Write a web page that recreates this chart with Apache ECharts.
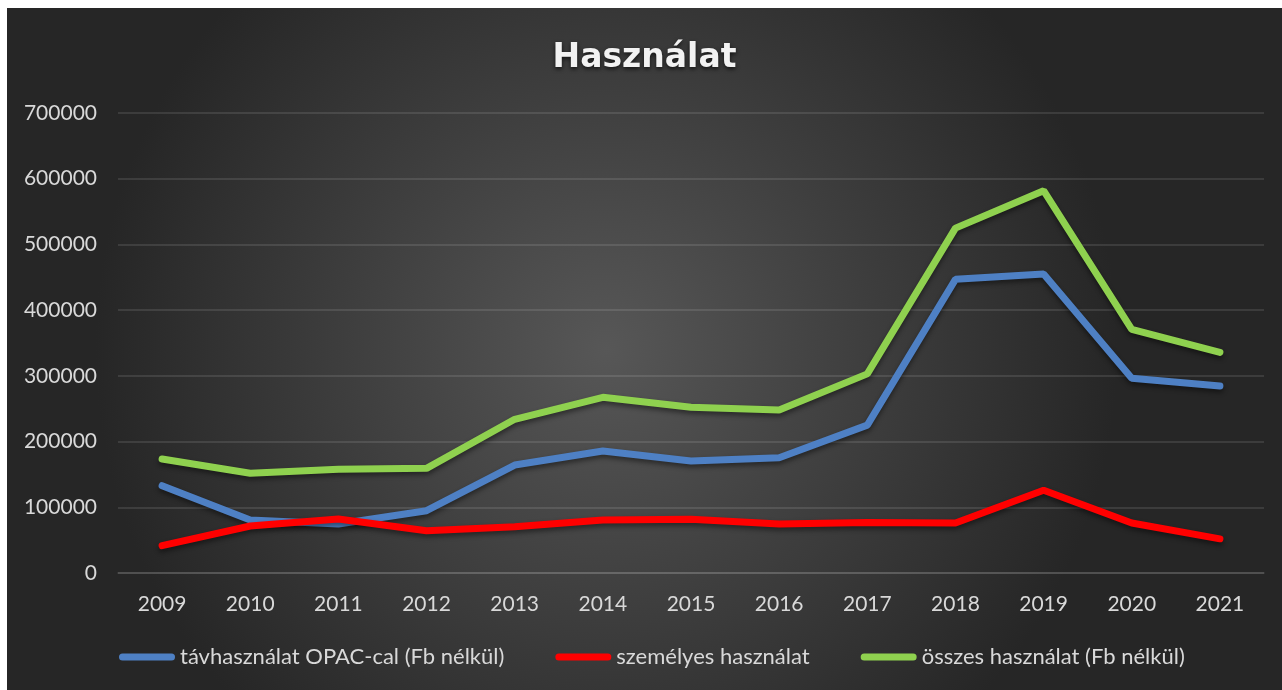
<!DOCTYPE html>
<html>
<head>
<meta charset="utf-8">
<script src="https://cdn.jsdelivr.net/npm/echarts@6/dist/echarts.min.js"></script>
<style>
  html, body { margin: 0; padding: 0; background: #fff; }
  #chart { position: absolute; left: 7px; top: 8px; width: 1275px; height: 682px; }
</style>
</head>
<body>
<div id="chart"></div>
<script>
const years = ['2009', '2010', '2011', '2012', '2013', '2014', '2015', '2016', '2017', '2018', '2019', '2020', '2021']
const tavhasznalat = [132900, 80600, 74600, 94800, 164300, 185600, 170400, 175500, 225000, 446900, 455000, 296300, 284600]
const szemelyes = [41600, 71500, 82200, 64400, 70500, 80600, 81700, 74600, 77000, 76000, 126000, 76000, 52000]
const osszes = [173500, 151700, 157800, 159300, 233900, 267400, 252100, 248000, 303000, 524800, 581700, 370800, 335800]
const seriesNames = ['távhasználat OPAC-cal (Fb nélkül)', 'személyes használat', 'összes használat (Fb nélkül)']
const colors = ['#4E80C4', '#FF0000', '#8FD14F']

const capsule = 'path://M3.5,0 H52.5 A3.5,3.5 0 0 1 52.5,7 H3.5 A3.5,3.5 0 0 1 3.5,0 Z'

function lineSeries(name, data, color) {
  return {
    name: name,
    type: 'line',
    data: data,
    symbol: 'none',
    color: color,
    lineStyle: {
      width: 7,
      color: color,
      cap: 'round',
      shadowColor: 'rgba(0,0,0,0.45)',
      shadowBlur: 5,
      shadowOffsetY: 3
    }
  }
}

const chart = echarts.init(document.getElementById('chart'))
chart.setOption({
  animation: false,
  backgroundColor: {
    type: 'radial', x: 0.47, y: 0.5, r: 0.75,
    colorStops: [
      { offset: 0, color: '#575757' },
      { offset: 1, color: '#262626' }
    ]
  },
  title: {
    text: 'Használat',
    left: 'center',
    top: 29,
    textStyle: {
      fontFamily: 'DejaVu Sans',
      fontWeight: 'bold',
      fontSize: 33,
      color: '#f2f2f2',
      textShadowColor: 'rgba(0,0,0,0.7)',
      textShadowBlur: 4,
      textShadowOffsetY: 2
    }
  },
  legend: {
    bottom: 17,
    left: 107,
    itemWidth: 56,
    itemHeight: 7,
    itemGap: 51,
    icon: capsule,
    textStyle: { fontFamily: 'Lato', fontSize: 22, color: '#d9d9d9' },
    data: seriesNames
  },
  grid: { left: 111, right: 18, top: 105, height: 460 },
  xAxis: {
    type: 'category',
    data: years,
    axisLine: { show: true, lineStyle: { color: 'rgba(255,255,255,0.14)', width: 1.5 } },
    axisTick: { show: false },
    axisLabel: { fontFamily: 'Lato', fontSize: 21, color: '#d9d9d9', margin: 21 }
  },
  yAxis: {
    type: 'value',
    min: 0,
    max: 700000,
    interval: 100000,
    axisLine: { show: false },
    axisTick: { show: false },
    axisLabel: {
      fontFamily: 'Lato', fontSize: 21, color: '#d9d9d9', margin: 21,
      formatter: v => String(v)
    },
    splitLine: { lineStyle: { color: 'rgba(255,255,255,0.14)', width: 1.5 } }
  },
  series: [
    lineSeries(seriesNames[0], tavhasznalat, colors[0]),
    lineSeries(seriesNames[1], szemelyes, colors[1]),
    lineSeries(seriesNames[2], osszes, colors[2])
  ]
})
</script>
</body>
</html>
